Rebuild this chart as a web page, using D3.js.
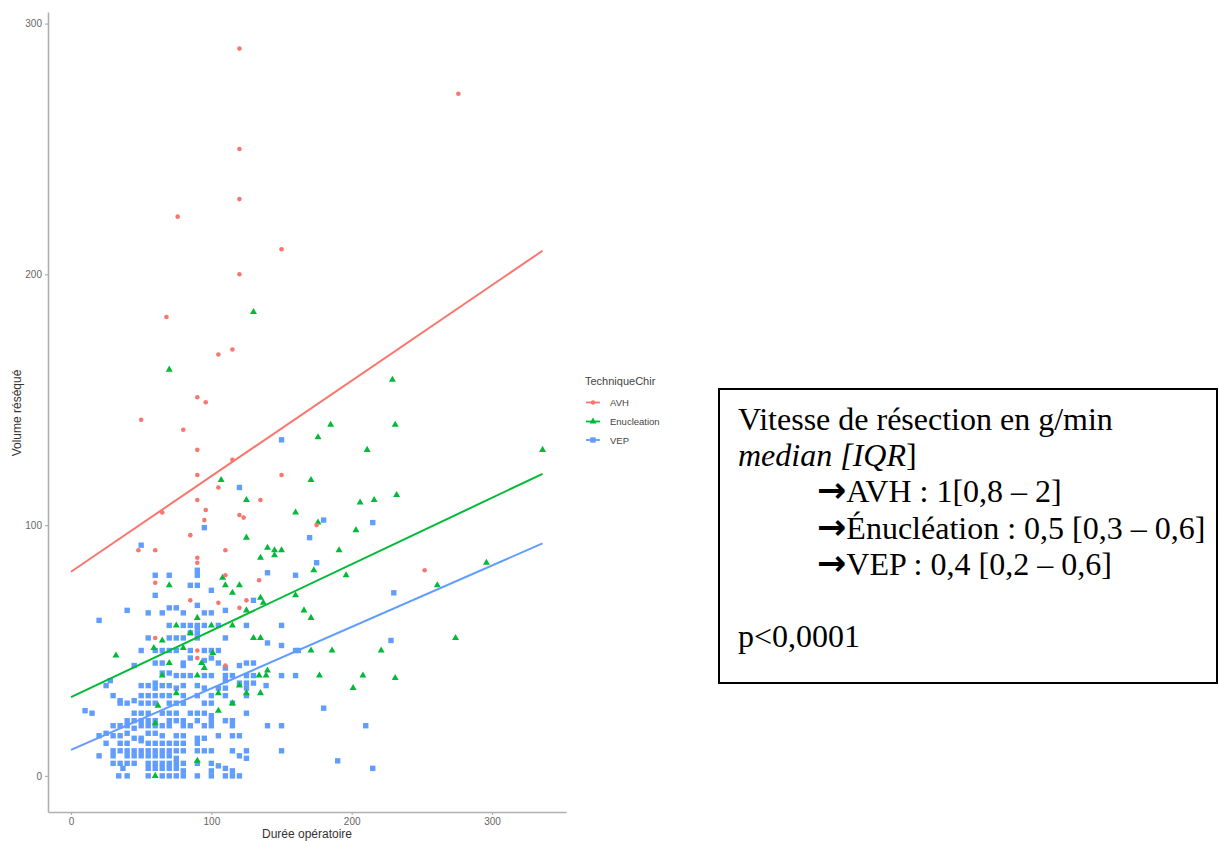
<!DOCTYPE html>
<html><head><meta charset="utf-8">
<script src="https://cdn.jsdelivr.net/npm/d3@7"></script>
<style>body{margin:0;background:#fff;}svg{display:block;}</style>
</head><body>
<script>
const categories = ["AVH", "Enucleation", "VEP"];
const seriesColors = ["#F8766D", "#00BA38", "#619CFF"];
const xTicks = [0, 100, 200, 300];
const yTicks = [0, 100, 200, 300];
const xTitle = "Durée opératoire";
const yTitle = "Volume réséqué";
const legendTitle = "TechniqueChir";

// [durée, volume]
const avhPoints = [[120,290],[120,250],[120,230],[76,223],[150,210],[120,200],[276,272],[68,183],[105,168],[115,170],
[90,151],[96,149],[50,142],[80,138],[90,130],[115,126],[90,120],[150,120],[105,115],[90,110],[135,110],[96,106],
[65,105],[95,102],[120,104],[123,103],[85,96],[48,90],[60,90],[110,90],[90,87],[90,85],[110,80],[60,77],[134,78],
[85,70],[105,69],[125,70],[120,67],[60,55],[90,50],[90,47],[110,44],[252,82],[175,100]];

const enucPoints = [[130,185],[70,162],[107,118],[125,110],[160,105],[125,95],[140,91],[145,90],[150,90],[145,88],
[135,87],[229,158],[185,140],[231,140],[176,135],[211,130],[336,130],[171,118],[206,109],[216,110],[232,112],
[176,101],[203,98],[191,90],[173,82],[196,80],[296,85],[261,76],[160,72],[166,66],[171,63],[274,55],[171,50],
[186,50],[221,50],[177,40],[208,40],[231,39],[201,35],[32,48],[70,76],[108,79],[110,76],[120,76],[115,73],
[125,66],[135,71],[137,69],[90,63],[75,60],[100,60],[115,60],[85,57],[130,55],[135,55],[65,54],[59,51],[80,51],
[101,49],[70,45],[93,45],[95,43],[65,40],[90,40],[120,36],[134,40],[139,40],[140,42],[125,33],[135,33],[75,33],
[105,33],[115,29],[105,26],[62,28],[60,21],[90,6],[60,0]];

const vepPoints = [[50,92],[60,80],[70,80],[90,82],[90,80],[140,81],[160,80],[60,72],[85,76],[90,76],[100,74],
[130,70],[40,66],[55,65],[65,65],[70,67],[75,67],[80,65],[90,68],[95,65],[100,65],[110,66],[20,62],
[70,60],[80,60],[85,60],[90,60],[90,59],[95,60],[105,60],[125,60],[150,60],[85,57],[90,57],
[55,55],[70,55],[75,55],[80,55],[90,55],[110,55],[140,53],
[50,50],[60,50],[65,50],[70,50],[75,50],[85,50],[95,50],[100,50],[105,50],[150,52],[85,47],[100,47],
[60,45],[65,45],[80,45],[95,46],[105,45],[125,45],[130,45],[45,44],[80,44],[110,43],[120,44],
[65,41],[70,41],[75,40],[80,40],[85,40],[95,40],[100,40],[110,40],[115,40],[125,40],[130,40],[150,40],[160,40],
[28,38],[50,36],[55,36],[60,37],[65,36],[70,36],[80,36],[90,36],[110,38],[120,37],[125,37],[130,37],
[25,36],[60,35],[75,35],[95,35],[105,35],[110,35],[125,35],[139,36],
[30,32],[35,30],[45,30],[50,32],[55,32],[60,32],[65,32],[70,32],[80,32],[90,32],[100,32],[110,32],[125,32],
[35,29],[40,29],[50,29],[55,29],[60,29],[70,29],[75,29],[80,29],[95,29],[100,29],[115,29],
[10,26],[15,25],[45,25],[50,25],[55,25],[65,25],[70,25],[75,25],[85,25],[90,25],[95,25],[100,24],[125,25],
[40,22],[45,22],[50,22],[55,22],[60,22],[70,22],[75,22],[80,22],[90,22],[100,22],[110,22],[115,22],
[30,20],[35,20],[40,20],[45,19],[50,20],[55,20],[60,20],[65,20],[70,20],[80,20],[85,20],[95,20],[100,20],[115,20],[140,20],[150,20],
[20,16],[25,17],[30,16],[35,16],[40,17],[45,15],[50,15],[55,17],[60,17],[65,16],[75,16],[80,16],[90,15],[95,15],[105,16],[115,16],[120,16],
[25,13],[35,13],[40,13],[50,14],[55,13],[60,13],[65,13],[70,13],[75,13],[80,13],[90,13],
[30,10],[35,10],[40,10],[45,10],[50,10],[55,10],[60,10],[65,10],[70,10],[75,10],[80,10],[90,10],[95,10],[100,10],[115,10],[125,10],[150,10],
[20,8],[30,8],[40,8],[45,8],[50,8],[55,8],[60,8],[65,8],[70,8],[75,7],[120,8],[125,7],
[30,5],[35,5],[40,5],[45,5],[55,5],[60,5],[65,5],[70,5],[75,5],[80,5],[90,5],[100,5],[105,4],
[37,3],[55,3],[60,3],[65,3],[70,3],[75,3],[80,2],[100,2],[110,3],[115,2],
[34,0],[40,0],[55,0],[65,0],[70,0],[75,0],[80,0],[90,0],[100,0],[110,0],[115,0],[120,0],
[175,85],[230,73],[160,50],[162,50],[228,54],[180,27],[210,20],[190,6],[215,3],[150,134],[180,102],[170,95],[215,101],[95,99],[120,115]];

// linear fits (intercept, slope), drawn over x range
const fitIntercepts = [81.4, 31.4, 10.4];
const fitSlopes = [0.381, 0.265, 0.245];
const fitRange = [0, 336];

const boxLines = [
  {t: "Vitesse de résection en g/min", italic: false, indent: false},
  {t: "median [IQR", tail: "]", italic: true, indent: false},
  {t: "AVH : 1[0,8 – 2]", arrow: true, indent: true},
  {t: "Énucléation : 0,5 [0,3 – 0,6]", arrow: true, indent: true},
  {t: "VEP : 0,4 [0,2 – 0,6]", arrow: true, indent: true},
  {t: "", indent: false},
  {t: "p<0,0001", indent: false}
];

const W = 1219, H = 841;
const svg = d3.select("body").append("svg").attr("width", W).attr("height", H);

const x = d3.scaleLinear().domain([-16.4, 352.7]).range([48, 566]);
const y = d3.scaleLinear().domain([-14.4, 304.6]).range([812, 12]);

const axisColor = "#b0b0b0";
const tickTextColor = "#666";

// axes
const gx = svg.append("g").attr("transform", "translate(0,812)")
  .call(d3.axisBottom(x).tickValues(xTicks).tickSize(3).tickSizeOuter(0).tickPadding(3));
const gy = svg.append("g").attr("transform", "translate(48,0)")
  .call(d3.axisLeft(y).tickValues(yTicks).tickSize(3).tickSizeOuter(0).tickPadding(3));
[gx, gy].forEach(g => {
  g.select(".domain").attr("stroke", axisColor).attr("stroke-width", 1.6);
  g.selectAll(".tick line").attr("stroke", axisColor).attr("stroke-width", 1.2);
  g.selectAll(".tick text").attr("fill", tickTextColor).attr("font-family", "Liberation Sans, Arial, sans-serif").attr("font-size", 10);
});

svg.append("text").attr("x", 307).attr("y", 838)
  .attr("text-anchor", "middle").attr("font-family", "Liberation Sans, Arial, sans-serif")
  .attr("font-size", 12).attr("fill", "#333").text(xTitle);
svg.append("text").attr("transform", "translate(21,413) rotate(-90)")
  .attr("text-anchor", "middle").attr("font-family", "Liberation Sans, Arial, sans-serif")
  .attr("font-size", 12).attr("fill", "#333").text(yTitle);

// points
const sq = d3.symbol().type(d3.symbolSquare).size(29);
const tri = d3.symbol().type(d3.symbolTriangle).size(21);
const pg = svg.append("g");
pg.selectAll("path.vep").data(vepPoints).join("path").attr("class", "vep")
  .attr("d", sq).attr("transform", d => `translate(${x(d[0])},${y(d[1])})`).attr("fill", seriesColors[2]);
pg.selectAll("path.enuc").data(enucPoints).join("path").attr("class", "enuc")
  .attr("d", tri).attr("transform", d => `translate(${x(d[0])},${y(d[1])})`).attr("fill", seriesColors[1]);
pg.selectAll("circle.avh").data(avhPoints).join("circle").attr("class", "avh")
  .attr("cx", d => x(d[0])).attr("cy", d => y(d[1])).attr("r", 2.3).attr("fill", seriesColors[0]);

// fit lines
const line = d3.line().x(d => x(d[0])).y(d => y(d[1]));
categories.forEach((c, i) => {
  const pts = fitRange.map(v => [v, fitIntercepts[i] + fitSlopes[i] * v]);
  svg.append("path").attr("d", line(pts)).attr("fill", "none")
    .attr("stroke", seriesColors[i]).attr("stroke-width", 2);
});

// legend
const lg = svg.append("g");
lg.append("text").attr("x", 585).attr("y", 385).attr("font-family", "Liberation Sans, Arial, sans-serif")
  .attr("font-size", 11).attr("fill", "#444").text(legendTitle);
const legY = [402.5, 421.5, 440];
categories.forEach((c, i) => {
  lg.append("line").attr("x1", 586).attr("x2", 600).attr("y1", legY[i]).attr("y2", legY[i])
    .attr("stroke", seriesColors[i]).attr("stroke-width", 1.8);
  const shape = i === 0 ? d3.symbol().type(d3.symbolCircle).size(16) : (i === 1 ? tri : sq);
  lg.append("path").attr("d", shape).attr("transform", `translate(593,${legY[i]})`).attr("fill", seriesColors[i]);
  lg.append("text").attr("x", 610).attr("y", legY[i] + 3.5).attr("font-family", "Liberation Sans, Arial, sans-serif")
    .attr("font-size", 9.5).attr("fill", "#444").text(c);
});

// text box
svg.append("rect").attr("x", 719).attr("y", 389).attr("width", 498).attr("height", 294)
  .attr("fill", "none").attr("stroke", "#000").attr("stroke-width", 2);
const tb = svg.append("g").attr("font-family", "Liberation Serif, Times New Roman, serif").attr("font-size", 32).attr("fill", "#000");
boxLines.forEach((l, i) => {
  const by = 430 + i * 36.2;
  const t = tb.append("text").attr("x", l.indent ? 817 : 738).attr("y", by);
  if (l.arrow) t.append("tspan").attr("font-family", "DejaVu Sans, sans-serif").attr("font-weight", "bold").attr("font-size", 35).text("→");
  const main = t.append("tspan").text(l.t);
  if (l.italic) main.attr("font-style", "italic");
  if (l.tail) t.append("tspan").text(l.tail);
});
</script>
</body></html>
